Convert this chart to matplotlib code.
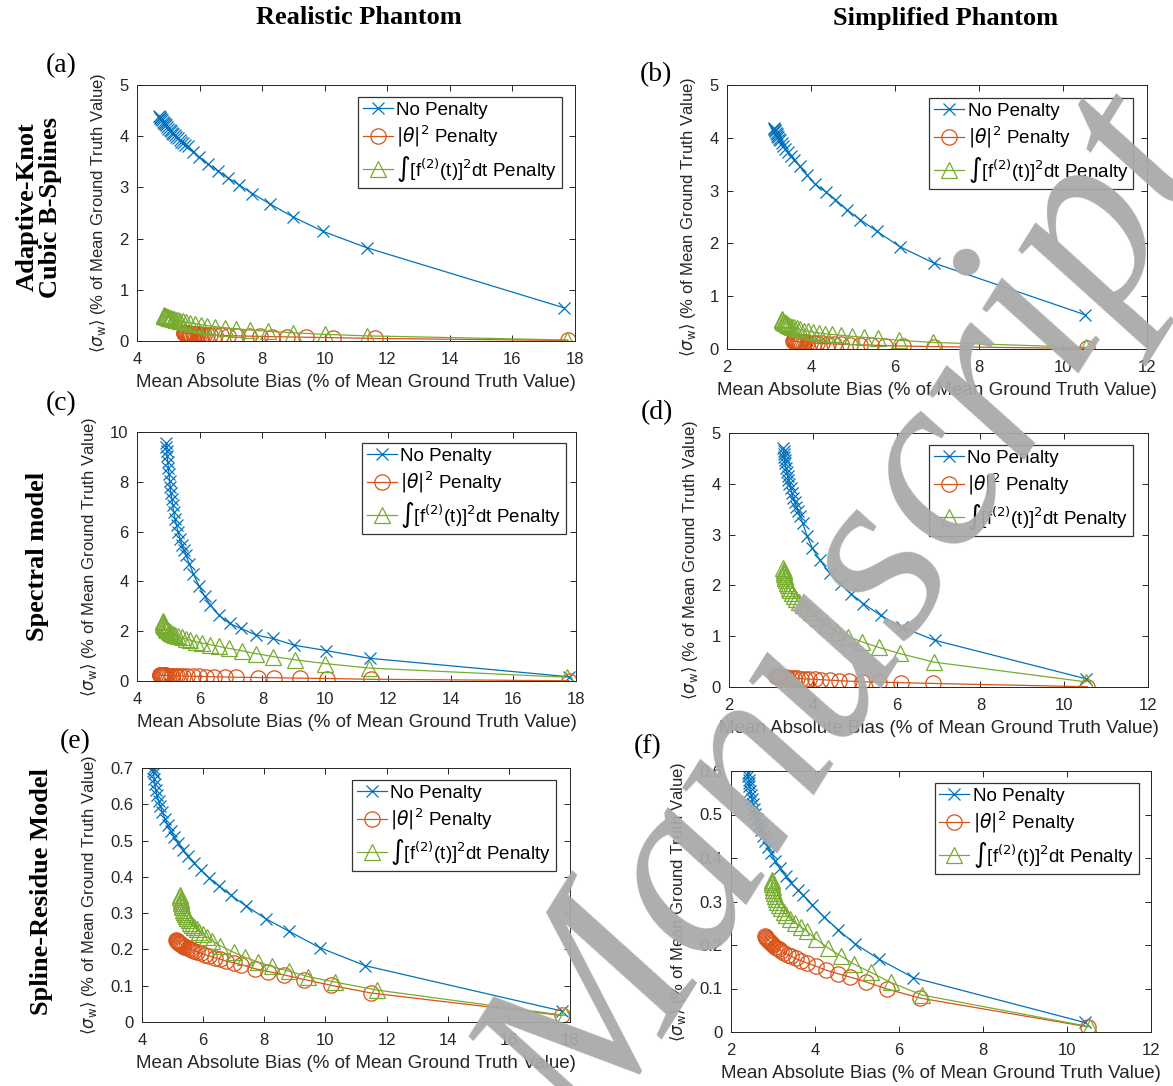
import matplotlib
matplotlib.use("Agg")
import matplotlib.pyplot as plt
from matplotlib.ticker import FuncFormatter

# ---- data ----
# (a) realistic phantom, adaptive-knot cubic B-splines
a_np_x = [4.70, 4.72, 4.75, 4.78, 4.80, 4.83, 4.86, 4.89, 4.92, 4.96, 5.00, 5.04, 5.08, 5.12, 5.16, 5.20, 5.25, 5.30, 5.36, 5.42, 5.48, 5.55, 5.62, 5.80, 5.98, 6.28, 6.59, 6.92, 7.26, 7.69, 8.24, 9.00, 9.95, 11.35, 17.64]
a_np_y = [4.40, 4.37, 4.35, 4.33, 4.31, 4.28, 4.26, 4.23, 4.21, 4.18, 4.15, 4.12, 4.10, 4.07, 4.04, 4.02, 3.99, 3.96, 3.92, 3.89, 3.86, 3.83, 3.80, 3.70, 3.60, 3.45, 3.32, 3.18, 3.05, 2.88, 2.68, 2.42, 2.14, 1.82, 0.65]
a_th_x = [5.49, 5.51, 5.53, 5.55, 5.57, 5.59, 5.62, 5.65, 5.68, 5.71, 5.74, 5.78, 5.82, 5.86, 5.91, 5.96, 6.02, 6.08, 6.15, 6.23, 6.34, 6.50, 6.68, 6.90, 7.20, 7.57, 7.93, 8.30, 8.81, 9.40, 10.25, 11.60, 17.78]
a_th_y = [0.16, 0.158, 0.156, 0.154, 0.152, 0.15, 0.148, 0.146, 0.144, 0.142, 0.140, 0.138, 0.136, 0.134, 0.132, 0.130, 0.128, 0.126, 0.124, 0.122, 0.119, 0.115, 0.111, 0.106, 0.100, 0.095, 0.090, 0.085, 0.080, 0.074, 0.065, 0.050, 0.010]
a_f2_x = [4.85, 4.87, 4.89, 4.91, 4.93, 4.96, 4.99, 5.02, 5.06, 5.10, 5.14, 5.19, 5.25, 5.31, 5.38, 5.46, 5.56, 5.70, 5.86, 6.04, 6.25, 6.50, 6.80, 7.15, 7.60, 8.20, 9.00, 10.00, 11.35, 17.75]
a_f2_y = [0.50, 0.495, 0.49, 0.485, 0.48, 0.472, 0.465, 0.457, 0.45, 0.442, 0.435, 0.425, 0.415, 0.405, 0.395, 0.383, 0.37, 0.355, 0.34, 0.32, 0.30, 0.28, 0.26, 0.24, 0.215, 0.19, 0.16, 0.13, 0.10, 0.02]

# (b) simplified phantom, adaptive-knot cubic B-splines
b_np_x = [3.12, 3.13, 3.14, 3.15, 3.16, 3.18, 3.20, 3.22, 3.24, 3.26, 3.30, 3.34, 3.39, 3.45, 3.52, 3.60, 3.73, 3.91, 4.09, 4.36, 4.58, 4.85, 5.17, 5.57, 6.11, 6.92, 10.52]
b_np_y = [4.18, 4.16, 4.14, 4.12, 4.10, 4.07, 4.04, 4.01, 3.98, 3.95, 3.90, 3.85, 3.79, 3.73, 3.66, 3.58, 3.46, 3.29, 3.13, 2.97, 2.83, 2.64, 2.45, 2.23, 1.94, 1.63, 0.65]
b_th_x = [3.58, 3.59, 3.60, 3.62, 3.64, 3.66, 3.68, 3.71, 3.74, 3.77, 3.80, 3.85, 3.91, 3.98, 4.06, 4.15, 4.27, 4.40, 4.55, 4.72, 4.92, 5.17, 5.44, 5.75, 6.20, 6.92, 10.56]
b_th_y = [0.15, 0.149, 0.148, 0.146, 0.144, 0.142, 0.140, 0.137, 0.134, 0.131, 0.128, 0.125, 0.122, 0.118, 0.114, 0.110, 0.105, 0.100, 0.095, 0.090, 0.085, 0.078, 0.072, 0.065, 0.057, 0.045, 0.010]
b_f2_x = [3.30, 3.31, 3.32, 3.34, 3.36, 3.38, 3.40, 3.43, 3.46, 3.50, 3.54, 3.59, 3.66, 3.74, 3.83, 3.93, 4.05, 4.18, 4.33, 4.50, 4.72, 4.98, 5.27, 5.60, 6.10, 6.90, 10.55]
b_f2_y = [0.56, 0.55, 0.54, 0.52, 0.51, 0.50, 0.485, 0.47, 0.455, 0.44, 0.425, 0.41, 0.39, 0.37, 0.35, 0.335, 0.32, 0.305, 0.29, 0.275, 0.26, 0.24, 0.22, 0.20, 0.165, 0.125, 0.03]

# (c) realistic phantom, spectral model
c_np_x = [4.93, 4.94, 4.95, 4.96, 4.98, 5.00, 5.02, 5.04, 5.06, 5.08, 5.11, 5.14, 5.17, 5.21, 5.26, 5.31, 5.37, 5.43, 5.49, 5.55, 5.67, 5.80, 5.98, 6.16, 6.34, 6.61, 6.95, 7.32, 7.81, 8.33, 9.00, 10.04, 11.43, 17.78]
c_np_y = [9.55, 9.40, 9.22, 9.05, 8.80, 8.55, 8.30, 8.05, 7.80, 7.55, 7.30, 7.05, 6.80, 6.52, 6.25, 5.98, 5.72, 5.48, 5.28, 5.08, 4.70, 4.30, 3.80, 3.40, 3.05, 2.65, 2.31, 2.11, 1.84, 1.71, 1.44, 1.22, 0.91, 0.17]
c_th_x = [4.72, 4.73, 4.74, 4.75, 4.77, 4.79, 4.81, 4.83, 4.86, 4.89, 4.93, 4.97, 5.02, 5.07, 5.13, 5.20, 5.28, 5.37, 5.47, 5.60, 5.77, 5.97, 6.20, 6.47, 6.80, 7.15, 7.85, 8.36, 9.19, 10.07, 11.45, 17.78]
c_th_y = [0.24, 0.239, 0.238, 0.237, 0.235, 0.233, 0.231, 0.229, 0.227, 0.225, 0.222, 0.22, 0.217, 0.214, 0.211, 0.208, 0.205, 0.202, 0.198, 0.195, 0.19, 0.185, 0.18, 0.17, 0.16, 0.15, 0.14, 0.13, 0.115, 0.10, 0.07, 0.01]
c_f2_x = [4.82, 4.83, 4.84, 4.85, 4.87, 4.89, 4.91, 4.94, 4.97, 5.01, 5.05, 5.10, 5.16, 5.22, 5.31, 5.42, 5.55, 5.70, 5.88, 6.08, 6.32, 6.60, 6.93, 7.35, 7.80, 8.35, 9.05, 10.00, 11.40, 17.70]
c_f2_y = [2.40, 2.35, 2.30, 2.26, 2.22, 2.18, 2.14, 2.10, 2.06, 2.02, 1.98, 1.94, 1.90, 1.86, 1.80, 1.75, 1.70, 1.64, 1.58, 1.52, 1.46, 1.39, 1.31, 1.21, 1.10, 0.98, 0.85, 0.70, 0.52, 0.15]

# (d) simplified phantom, spectral model
d_np_x = [3.30, 3.305, 3.31, 3.32, 3.33, 3.34, 3.36, 3.38, 3.40, 3.42, 3.44, 3.47, 3.50, 3.53, 3.57, 3.61, 3.65, 3.70, 3.76, 3.86, 3.99, 4.17, 4.40, 4.67, 4.90, 5.21, 5.62, 6.12, 6.91, 10.53]
d_np_y = [4.70, 4.64, 4.58, 4.52, 4.46, 4.40, 4.32, 4.24, 4.16, 4.08, 4.00, 3.91, 3.82, 3.73, 3.64, 3.55, 3.46, 3.36, 3.22, 2.98, 2.73, 2.50, 2.24, 2.02, 1.84, 1.64, 1.41, 1.18, 0.92, 0.16]
d_th_x = [3.12, 3.13, 3.14, 3.16, 3.18, 3.20, 3.22, 3.25, 3.28, 3.32, 3.36, 3.41, 3.47, 3.54, 3.62, 3.71, 3.81, 3.92, 4.05, 4.20, 4.40, 4.62, 4.87, 5.17, 5.57, 6.10, 6.87, 10.55]
d_th_y = [0.22, 0.218, 0.216, 0.213, 0.21, 0.207, 0.204, 0.2, 0.196, 0.192, 0.188, 0.184, 0.18, 0.175, 0.17, 0.165, 0.16, 0.155, 0.15, 0.143, 0.135, 0.125, 0.115, 0.105, 0.095, 0.085, 0.07, 0.005]
d_f2_x = [3.30, 3.305, 3.31, 3.32, 3.33, 3.34, 3.36, 3.38, 3.40, 3.43, 3.46, 3.50, 3.55, 3.61, 3.68, 3.76, 3.85, 3.95, 4.13, 4.31, 4.58, 4.85, 5.17, 5.57, 6.07, 6.89, 10.53]
d_f2_y = [2.35, 2.31, 2.27, 2.23, 2.19, 2.15, 2.10, 2.05, 2.00, 1.95, 1.90, 1.85, 1.79, 1.73, 1.67, 1.61, 1.55, 1.48, 1.35, 1.22, 1.09, 0.99, 0.89, 0.78, 0.66, 0.49, 0.10]

# (e) realistic phantom, spline-residue model
e_np_x = [4.36, 4.37, 4.38, 4.40, 4.42, 4.45, 4.49, 4.54, 4.60, 4.67, 4.75, 4.84, 4.94, 5.05, 5.18, 5.33, 5.50, 5.70, 5.93, 6.20, 6.52, 6.90, 7.40, 8.04, 8.81, 9.81, 11.31, 17.75]
e_np_y = [0.70, 0.692, 0.685, 0.67, 0.655, 0.64, 0.625, 0.61, 0.595, 0.578, 0.56, 0.543, 0.527, 0.51, 0.493, 0.475, 0.457, 0.438, 0.418, 0.397, 0.375, 0.35, 0.32, 0.285, 0.25, 0.205, 0.155, 0.03]
e_th_x = [5.12, 5.13, 5.14, 5.16, 5.18, 5.20, 5.22, 5.25, 5.28, 5.31, 5.35, 5.39, 5.44, 5.50, 5.56, 5.63, 5.70, 5.80, 5.92, 6.05, 6.20, 6.38, 6.55, 6.75, 7.00, 7.25, 7.69, 8.13, 8.63, 9.31, 10.19, 11.48, 17.73]
e_th_y = [0.225, 0.224, 0.223, 0.222, 0.221, 0.219, 0.218, 0.216, 0.214, 0.212, 0.210, 0.208, 0.206, 0.204, 0.202, 0.199, 0.197, 0.194, 0.190, 0.186, 0.182, 0.177, 0.173, 0.168, 0.163, 0.158, 0.147, 0.139, 0.130, 0.117, 0.101, 0.080, 0.018]
e_f2_x = [5.25, 5.255, 5.26, 5.27, 5.28, 5.30, 5.32, 5.34, 5.37, 5.40, 5.44, 5.48, 5.53, 5.58, 5.64, 5.71, 5.79, 5.88, 6.00, 6.13, 6.30, 6.56, 7.00, 7.38, 7.81, 8.25, 8.81, 9.44, 10.31, 11.69, 17.85]
e_f2_y = [0.35, 0.345, 0.34, 0.334, 0.328, 0.322, 0.316, 0.31, 0.304, 0.298, 0.292, 0.286, 0.28, 0.274, 0.268, 0.262, 0.256, 0.249, 0.242, 0.234, 0.224, 0.21, 0.192, 0.178, 0.165, 0.153, 0.14, 0.125, 0.11, 0.088, 0.018]

# (f) simplified phantom, spline-residue model
f_np_x = [2.40, 2.41, 2.42, 2.43, 2.44, 2.46, 2.48, 2.50, 2.52, 2.55, 2.58, 2.62, 2.66, 2.71, 2.76, 2.82, 2.88, 2.95, 3.05, 3.17, 3.30, 3.44, 3.60, 3.71, 3.94, 4.21, 4.55, 4.95, 5.53, 6.34, 10.42]
f_np_y = [0.595, 0.588, 0.58, 0.573, 0.565, 0.555, 0.545, 0.535, 0.525, 0.513, 0.501, 0.489, 0.477, 0.464, 0.451, 0.438, 0.425, 0.411, 0.394, 0.376, 0.359, 0.342, 0.326, 0.315, 0.292, 0.265, 0.235, 0.203, 0.167, 0.125, 0.022]
f_th_x = [2.82, 2.83, 2.84, 2.86, 2.88, 2.90, 2.92, 2.95, 2.98, 3.01, 3.05, 3.09, 3.14, 3.20, 3.27, 3.35, 3.44, 3.54, 3.66, 3.80, 4.03, 4.27, 4.55, 4.84, 5.22, 5.71, 6.50, 10.49]
f_th_y = [0.22, 0.218, 0.216, 0.214, 0.212, 0.21, 0.208, 0.205, 0.202, 0.199, 0.196, 0.193, 0.19, 0.186, 0.182, 0.178, 0.174, 0.169, 0.164, 0.159, 0.151, 0.142, 0.134, 0.126, 0.115, 0.099, 0.078, 0.012]
f_f2_x = [2.97, 2.975, 2.98, 2.99, 3.00, 3.02, 3.04, 3.07, 3.10, 3.14, 3.19, 3.25, 3.32, 3.41, 3.53, 3.66, 3.80, 4.03, 4.30, 4.61, 4.93, 5.33, 5.80, 6.55, 10.55]
f_f2_y = [0.35, 0.345, 0.34, 0.333, 0.326, 0.319, 0.312, 0.305, 0.298, 0.291, 0.284, 0.276, 0.268, 0.26, 0.251, 0.242, 0.232, 0.213, 0.194, 0.175, 0.156, 0.137, 0.114, 0.085, 0.012]

xticks_real = [4, 6, 8, 10, 12, 14, 16, 18]
xticks_simp = [2, 4, 6, 8, 10, 12]
yticks_5 = [0, 1, 2, 3, 4, 5]
yticks_10 = [0, 2, 4, 6, 8, 10]
yticks_07 = [0, 0.1, 0.2, 0.3, 0.4, 0.5, 0.6, 0.7]
yticks_06 = [0, 0.1, 0.2, 0.3, 0.4, 0.5, 0.6]

labels = ["No Penalty", r"$|\theta|^2$ Penalty", r"$\int$[f$^{(2)}$(t)]$^2$dt Penalty"]
col_titles = ["Realistic Phantom", "Simplified Phantom"]
row_titles = ["Adaptive-Knot\nCubic B-Splines", "Spectral model", "Spline-Residue Model"]
letters = ["(a)", "(b)", "(c)", "(d)", "(e)", "(f)"]

blue = "#0072BD"
orange = "#D95319"
green = "#77AC30"
dark = "#262626"

plt.rcParams["font.family"] = ["Liberation Sans", "DejaVu Sans"]

W, H = 1173, 1086
fig = plt.figure(figsize=(W / 100, H / 100), dpi=100)


def px_axes(l, r, t, b):
    return fig.add_axes([l / W, 1 - b / H, (r - l) / W, (b - t) / H])


panels = [
    (px_axes(137, 575, 85, 341), (a_np_x, a_np_y, a_th_x, a_th_y, a_f2_x, a_f2_y), (4, 18), xticks_real, (0, 5), yticks_5, (0.970, 0.953)),
    (px_axes(727, 1147, 85, 349), (b_np_x, b_np_y, b_th_x, b_th_y, b_f2_x, b_f2_y), (2, 12), xticks_simp, (0, 5), yticks_5, (0.967, 0.951)),
    (px_axes(137, 576, 432, 681), (c_np_x, c_np_y, c_th_x, c_th_y, c_f2_x, c_f2_y), (4, 18), xticks_real, (0, 10), yticks_10, (0.977, 0.956)),
    (px_axes(729, 1148, 433, 687), (d_np_x, d_np_y, d_th_x, d_th_y, d_f2_x, d_f2_y), (2, 12), xticks_simp, (0, 5), yticks_5, (0.964, 0.953)),
    (px_axes(142, 570, 768, 1022), (e_np_x, e_np_y, e_th_x, e_th_y, e_f2_x, e_f2_y), (4, 18), xticks_real, (0, 0.7), yticks_07, (0.967, 0.953)),
    (px_axes(731, 1151, 771, 1032), (f_np_x, f_np_y, f_th_x, f_th_y, f_f2_x, f_f2_y), (2, 12), xticks_simp, (0, 0.6), yticks_06, (0.971, 0.954)),
]

fmt = FuncFormatter(lambda v, p: "%g" % round(v, 6))

for ax, d, xl, xt, yl, yt, leg_anchor in panels:
    ax.plot(d[0], d[1], "-x", color=blue, lw=0.9, ms=9, mew=0.9, label=labels[0])
    ax.plot(d[2], d[3], "-o", color=orange, lw=0.9, ms=11, mew=0.9, mfc="none", label=labels[1])
    ax.plot(d[4], d[5], "-^", color=green, lw=0.9, ms=11, mew=0.9, mfc="none", label=labels[2])
    ax.set_xlim(xl)
    ax.set_ylim(yl)
    ax.set_xticks(xt)
    ax.set_yticks(yt)
    ax.xaxis.set_major_formatter(fmt)
    ax.yaxis.set_major_formatter(fmt)
    ax.tick_params(direction="in", top=True, right=True, length=4, width=0.7,
                   labelsize=12, colors=dark)
    ax.tick_params(axis="x", pad=8)
    ax.tick_params(axis="y", pad=6)
    for s in ax.spines.values():
        s.set_color(dark)
        s.set_linewidth(0.7)
    ax.set_xlabel("Mean Absolute Bias (% of Mean Ground Truth Value)", fontsize=13.5, color=dark, labelpad=5)
    ax.set_ylabel(r"$\langle\sigma_{\rm w}\rangle$ (% of Mean Ground Truth Value)", fontsize=12, color=dark, labelpad=8)
    leg = ax.legend(loc="upper right", bbox_to_anchor=leg_anchor, fontsize=13.5, frameon=True,
                    fancybox=False, edgecolor="black", borderaxespad=0, borderpad=0.25,
                    handlelength=1.6, handletextpad=0.2, labelspacing=0.25)
    leg.get_frame().set_linewidth(0.9)

# column and row headings
fig.text(359 / W, 1 - 18 / H, col_titles[0], ha="center", va="center", fontsize=19,
         family="Liberation Serif", weight="bold")
fig.text(946 / W, 1 - 18 / H, col_titles[1], ha="center", va="center", fontsize=19,
         family="Liberation Serif", weight="bold")
for (x, y), t in zip([(39, 207), (38, 556), (42, 892)], row_titles):
    fig.text(x / W, 1 - y / H, t, ha="center", va="center", rotation=90, fontsize=19,
             family="Liberation Serif", weight="bold", linespacing=1.0)
for (x, y), t in zip([(61, 66), (656, 75), (61, 404), (657, 413), (75, 742), (648, 747)], letters):
    fig.text(x / W, 1 - y / H, t, ha="center", va="center", fontsize=20, family="Liberation Serif")

# watermark
fig.text(855 / W, 1 - 622 / H, "Manuscript", ha="center", va="center", rotation=58,
         rotation_mode="anchor", fontsize=182, family="Liberation Serif", style="italic",
         color="#a9a9a9", alpha=0.95, zorder=10)

fig.savefig("out.png", dpi=100)
